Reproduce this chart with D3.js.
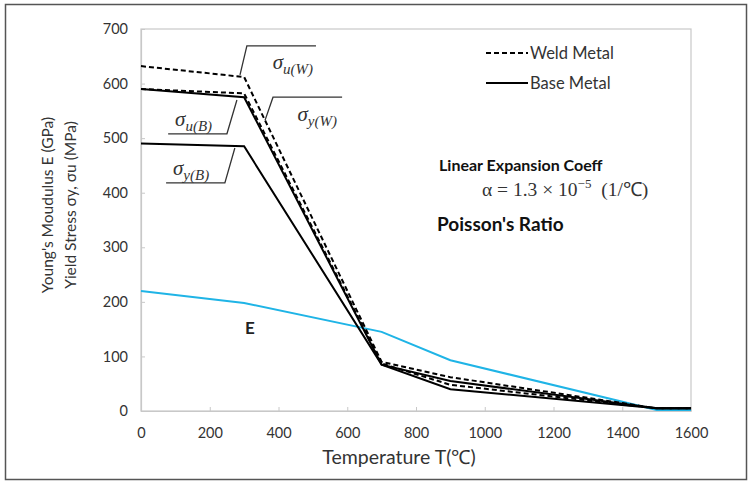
<!DOCTYPE html>
<head>
    <meta charset="utf-8">
    <title>Temperature dependent material properties</title>
    <style>
        body { margin: 0; background: #fff; }
        text { font-family: Lato, "Open Sans", sans-serif; }
    </style>
</head>
<body>
    <svg width="751" height="483"></svg>
    <script src="https://d3js.org/d3.v7.min.js"></script>
    <script>

        // temperatures (deg C) at which the properties were given
        var temps = [0, 300, 700, 900, 1500, 1600];

        // yield / ultimate stress (MPa)
        var weldUltimate = [632, 612, 90, 62, 5, 5];
        var weldYield = [590, 582, 87, 48, 5, 5];
        var baseUltimate = [590, 575, 85, 55, 5, 5];
        var baseYield = [490, 485, 85, 40, 5, 5];

        // Young's modulus (GPa)
        var youngs = [220, 198, 145, 93, 2, 2];

        var xTicks = [0, 200, 400, 600, 800, 1000, 1200, 1400, 1600];
        var yTicks = [0, 100, 200, 300, 400, 500, 600, 700];

        var svg = d3.select("svg"),
            margin = { top: 29, right: 60, bottom: 72, left: 141 },
            width = svg.attr("width") - margin.left - margin.right,
            height = svg.attr("height") - margin.top - margin.bottom;

        // outer frame
        svg.append("rect")
            .attr("x", 5.5).attr("y", 4.5)
            .attr("width", 741).attr("height", 475)
            .attr("fill", "none")
            .attr("stroke", "#555")
            .attr("stroke-width", 1.5);

        var x = d3.scaleLinear().domain([0, 1600]).range([0, width]),
            y = d3.scaleLinear().domain([0, 700]).range([height, 0]);

        var g = svg.append("g")
            .attr("transform", "translate(" + margin.left + "," + margin.top + ")");

        // plot box
        g.append("rect")
            .attr("width", width).attr("height", height)
            .attr("fill", "none")
            .attr("stroke", "#c8c8c8")
            .attr("stroke-width", 1.2);

        var xAxis = g.append("g")
            .attr("transform", "translate(0," + height + ")")
            .call(d3.axisBottom(x).tickValues(xTicks).tickSizeInner(-4).tickSizeOuter(0).tickPadding(17).tickFormat(d3.format("d")));
        var yAxis = g.append("g")
            .call(d3.axisLeft(y).tickValues(yTicks).tickSizeInner(-4).tickSizeOuter(0).tickPadding(13));

        [xAxis, yAxis].forEach(function (a) {
            a.select(".domain").attr("stroke", "#c8c8c8").attr("stroke-width", 1.2);
            a.selectAll(".tick line").attr("stroke", "#c8c8c8");
            a.selectAll(".tick text")
                .attr("fill", "#333")
                .style("font-family", "Lato, sans-serif")
                .style("font-size", "14.5px");
        });

        var line = d3.line()
            .x(function (d, i) { return x(temps[i]); })
            .y(function (d) { return y(d); });

        var series = [
            { values: youngs, color: "#1fb4e6", dash: null },
            { values: baseYield, color: "#000", dash: null },
            { values: baseUltimate, color: "#000", dash: null },
            { values: weldYield, color: "#000", dash: "5,3" },
            { values: weldUltimate, color: "#000", dash: "5,3" }
        ];

        g.selectAll(".series")
            .data(series)
            .enter().append("path")
            .attr("class", "series")
            .attr("fill", "none")
            .attr("stroke", function (d) { return d.color; })
            .attr("stroke-width", 2)
            .attr("stroke-dasharray", function (d) { return d.dash; })
            .attr("d", function (d) { return line(d.values); });

        // sigma labels with leader lines (given in data units)
        var notes = [
            { sub: "u(W)", path: [[288, 616], [308, 669], [509, 669]], at: [383, 627] },
            { sub: "y(W)", path: [[361, 533], [384, 575], [585, 575]], at: [455, 532] },
            { sub: "u(B)", path: [[279, 570], [250, 508], [79, 508]], at: [99, 523] },
            { sub: "y(B)", path: [[273, 482], [244, 418], [73, 418]], at: [93, 432] }
        ];

        var leader = d3.line()
            .x(function (p) { return x(p[0]); })
            .y(function (p) { return y(p[1]); });

        notes.forEach(function (n) {
            g.append("path")
                .attr("d", leader(n.path))
                .attr("fill", "none")
                .attr("stroke", "#333")
                .attr("stroke-width", 1.3);
            var t = g.append("text")
                .attr("x", x(n.at[0]))
                .attr("y", y(n.at[1]))
                .attr("fill", "#333")
                .style("font-family", "'Liberation Serif', serif")
                .style("font-style", "italic")
                .style("font-size", "21px")
                .text("σ");
            t.append("tspan")
                .attr("dy", 5)
                .style("font-size", "15px")
                .text(n.sub);
        });

        // legend
        var legend = g.append("g").attr("transform", "translate(345,24)");
        [{ label: "Weld Metal", dash: "5,3" }, { label: "Base Metal", dash: null }].forEach(function (d, i) {
            legend.append("line")
                .attr("x1", 0).attr("x2", 42)
                .attr("y1", i * 30).attr("y2", i * 30)
                .attr("stroke", "#000")
                .attr("stroke-width", 2)
                .attr("stroke-dasharray", d.dash);
            legend.append("text")
                .attr("x", 44).attr("y", i * 30)
                .attr("dy", "0.35em")
                .attr("fill", "#333")
                .style("font-size", "16.5px")
                .text(d.label);
        });

        // property notes
        g.append("text")
            .attr("x", 298).attr("y", 142)
            .attr("fill", "#111")
            .style("font-size", "16px")
            .style("font-weight", "bold")
            .text("Linear Expansion Coeff");

        var alpha = g.append("text")
            .attr("x", 341).attr("y", 167)
            .attr("fill", "#333")
            .style("font-family", "'Liberation Serif', serif")
            .style("font-size", "19.5px")
            .text("α = 1.3 × 10");
        alpha.append("tspan")
            .attr("dy", -8)
            .style("font-size", "13px")
            .text("−5");
        alpha.append("tspan")
            .attr("dy", 8)
            .text("\u00a0\u00a0(1/℃)");

        g.append("text")
            .attr("x", 296).attr("y", 202)
            .attr("fill", "#111")
            .style("font-size", "19px")
            .style("font-weight", "bold")
            .text("Poisson's Ratio");

        g.append("text")
            .attr("x", 104).attr("y", 305)
            .attr("fill", "#222")
            .style("font-size", "17px")
            .style("font-weight", "bold")
            .text("E");

        // axis titles
        g.append("text")
            .attr("x", width / 2 - 17).attr("y", height + 53)
            .attr("text-anchor", "middle")
            .attr("fill", "#333")
            .style("font-size", "19.5px")
            .text("Temperature T(℃)");

        var yTitle = svg.append("text")
            .attr("transform", "translate(53,205) rotate(-90)")
            .attr("text-anchor", "middle")
            .attr("fill", "#333")
            .style("font-size", "15.5px");
        yTitle.append("tspan").attr("x", 0).attr("y", 0).text("Young's Moudulus E (GPa)");
        yTitle.append("tspan").attr("x", 0).attr("y", 0).attr("dy", 23).text("Yield Stress  σy, σu (MPa)");

    </script>
</body>
